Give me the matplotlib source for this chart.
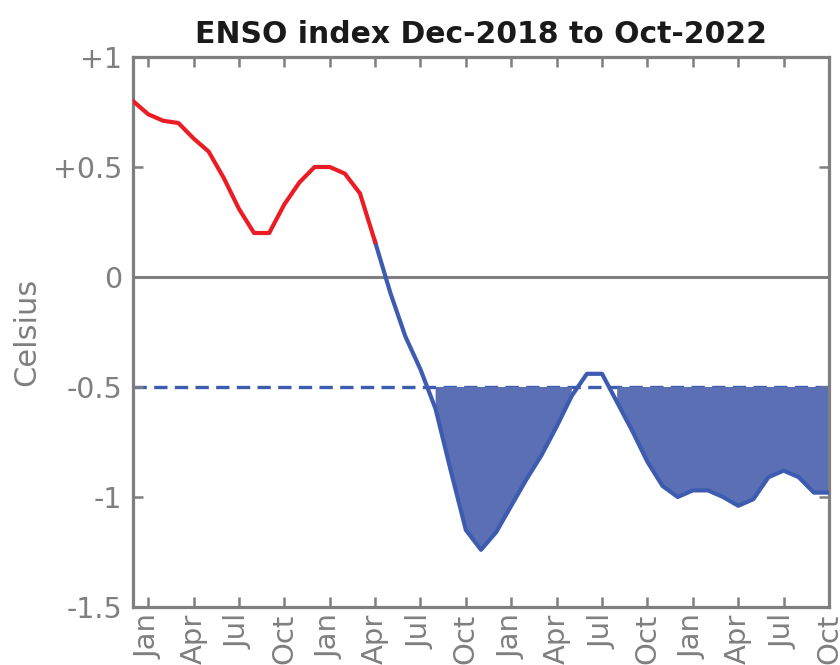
import numpy as np
import matplotlib
matplotlib.use("Agg")
import matplotlib.pyplot as plt

# Monthly ENSO index, Dec 2018 .. Oct 2022 (degrees Celsius)
enso = [
    0.80, 0.74, 0.71, 0.70, 0.63, 0.57, 0.45, 0.31, 0.20, 0.20, 0.33, 0.43,   # Dec18 - Nov19
    0.50, 0.50, 0.47, 0.38, 0.16, -0.07, -0.27, -0.42, -0.60, -0.88, -1.15, -1.24,  # Dec19 - Nov20
    -1.16, -1.04, -0.92, -0.81, -0.68, -0.54, -0.44, -0.44, -0.57, -0.70, -0.84, -0.95,  # Dec20 - Nov21
    -1.00, -0.97, -0.97, -1.00, -1.04, -1.01, -0.91, -0.88, -0.91, -0.98, -0.98,   # Dec21 - Oct22
]
warm_end = 16              # last month drawn in red (Apr 2020)
threshold = -0.5           # La Nina threshold
tick_names = ["Jan", "Apr", "Jul", "Oct"]
ytick_vals = [1, 0.5, 0, -0.5, -1, -1.5]
ytick_text = ["+1", "+0.5", "0", "-0.5", "-1", "-1.5"]
title = "ENSO index Dec-2018 to Oct-2022"
ylabel = "Celsius"

RED = "#ec1c24"
BLUE = "#3d5cb0"
FILL = "#5a6fb4"
GRAY = "#7f7f7f"

y = np.array(enso)
x = np.arange(len(y))

fig = plt.figure(figsize=(8.4, 6.65), dpi=100)
ax = fig.add_axes([133 / 840, 1 - 607 / 665, (829 - 133) / 840, (607 - 57) / 665])

ax.set_xlim(0, len(y) - 1)
ax.set_ylim(-1.5, 1)

# shaded area below the threshold
ax.fill_between(x, y, threshold, where=y < threshold, color=FILL, lw=0, zorder=2)

ax.axhline(0, color=GRAY, lw=2.2, zorder=1)
ax.axhline(threshold, color=BLUE, lw=2.4, ls=(0, (4.0, 2.2)), zorder=1)

ax.plot(x[warm_end:], y[warm_end:], color=BLUE, lw=3.0, zorder=3,
        solid_joinstyle="round")
ax.plot(x[:warm_end + 1], y[:warm_end + 1], color=RED, lw=3.0, zorder=4,
        solid_joinstyle="round")

# month ticks every quarter starting January 2019
xt = np.arange(1, len(y), 3)
ax.set_xticks(xt)
ax.set_xticklabels([tick_names[i % 4] for i in range(len(xt))], rotation=90,
                   fontsize=21, color=GRAY, family="DejaVu Sans")
ax.set_yticks(ytick_vals)
ax.set_yticklabels(ytick_text, fontsize=20.5, color=GRAY, family="DejaVu Sans")

ax.tick_params(axis="both", direction="in", length=7, width=1.8, color=GRAY,
               top=True, right=True, pad=5)
ax.tick_params(axis="y", pad=8)
for s in ax.spines.values():
    s.set_color(GRAY)
    s.set_linewidth(2.3)

ax.set_title(title, fontsize=21.5, fontweight="heavy", color="#1a1a1a",
             family="DejaVu Sans", pad=10)
ax.set_ylabel(ylabel, fontsize=22, color=GRAY, family="DejaVu Sans", labelpad=8)

fig.savefig("out.png", dpi=100, facecolor="white")
